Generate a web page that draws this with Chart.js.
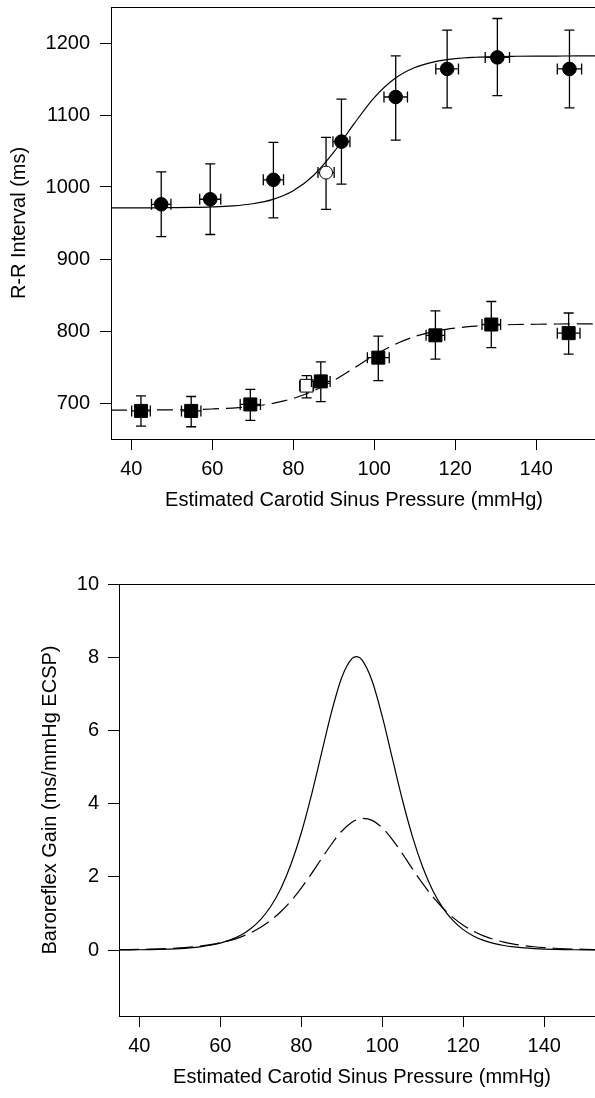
<!DOCTYPE html>
<html>
<head>
<meta charset="utf-8">
<script src="https://cdn.jsdelivr.net/npm/chart.js@4.4.1/dist/chart.umd.min.js"></script>
<style>
  html, body { margin: 0; padding: 0; background: #fff; overflow: hidden; }
  #page { position: absolute; left: 0; top: 0; width: 595px; height: 1098px; overflow: hidden; }
  canvas { position: absolute; left: 0; }
</style>
</head>
<body>
<div id="page">
  <canvas id="rr" width="597" height="512" style="top:0"></canvas>
  <canvas id="gain" width="605" height="529" style="top:560px"></canvas>
</div>
<script>
// top panel: R-R interval vs estimated carotid sinus pressure
const pressureCtl = [47.4, 59.5, 75.1, 91.9, 105.3, 118.0, 130.4, 148.2];
const rrCtl     = [976, 983, 1010, 1063, 1125, 1164, 1180, 1164];
const rrCtlHi   = [1021, 1032, 1062, 1122, 1182, 1218, 1234, 1218];
const rrCtlLo   = [931, 934, 957, 1004, 1065, 1110, 1127, 1110];
const pressureCtlErr = [2.4, 2.6, 2.5, 2.1, 2.9, 2.8, 3.0, 3.0];

const pressureCtlOpen = [88.1];
const rrCtlOpen   = [1020];
const rrCtlOpenHi = [1069];
const rrCtlOpenLo = [969];
const pressureCtlOpenErr = [2.0];

const pressureExp = [42.4, 54.8, 69.4, 86.8, 101.0, 115.1, 128.9, 148.0];
const rrExp     = [689, 689, 698, 730, 763, 794, 809, 797];
const rrExpHi   = [710, 709, 719, 757, 793, 828, 841, 825];
const rrExpLo   = [668, 667, 676, 702, 731, 761, 777, 768];
const pressureExpErr = [2.3, 2.4, 2.5, 2.3, 2.7, 2.3, 2.3, 2.8];

const pressureExpOpen = [83.3];
const rrExpOpen   = [724];
const rrExpOpenHi = [738];
const rrExpOpenLo = [707];
const pressureExpOpenErr = [1.7];

// fitted curves
const curveX = [35, 40, 45, 50, 55, 60, 65, 70, 75, 80, 85, 90, 95, 100, 105, 110, 115, 120, 125, 130, 135, 140, 145, 150, 155];
const fitCtl = [971.0, 971.1, 971.1, 971.3, 971.6, 972.3, 973.7, 976.7, 982.8, 994.7, 1016.0, 1048.3, 1087.7, 1124.1, 1150.3, 1165.9, 1174.2, 1178.3, 1180.2, 1181.2, 1181.6, 1181.8, 1181.9, 1182.0, 1182.0];
const fitExp = [690.1, 690.2, 690.3, 690.5, 690.9, 691.7, 693.0, 695.4, 699.5, 706.3, 716.8, 731.2, 748.6, 766.2, 781.2, 792.3, 799.6, 804.0, 806.7, 808.1, 809.0, 809.4, 809.7, 809.8, 809.9];

// bottom panel: baroreflex gain curves
const gainX = [35, 37.5, 40, 42.5, 45, 47.5, 50, 52.5, 55, 57.5, 60, 62.5, 65, 67.5, 70, 72.5, 75, 77.5, 80, 82.5,
               85, 87.5, 90, 92.5, 93.75, 95, 97.5, 100, 102.5, 105, 107.5, 110, 112.5, 115, 117.5, 120, 122.5, 125, 127.5, 130,
               132.5, 135, 137.5, 140, 142.5, 145, 147.5, 150, 152.5, 155];
const gainCtl = [0.004, 0.006, 0.009, 0.014, 0.020, 0.029, 0.042, 0.062, 0.090, 0.132, 0.192, 0.279, 0.405, 0.585, 0.841, 1.199, 1.692, 2.358, 3.199, 4.227,
                 5.375, 6.515, 7.447, 7.962, 8.017, 7.927, 7.352, 6.384, 5.234, 4.093, 3.086, 2.263, 1.623, 1.148, 0.805, 0.559, 0.387, 0.267, 0.183, 0.126,
                 0.087, 0.059, 0.041, 0.028, 0.019, 0.013, 0.009, 0.006, 0.004, 0.003];
const gainExp = [0.010, 0.014, 0.019, 0.025, 0.034, 0.046, 0.061, 0.083, 0.111, 0.149, 0.200, 0.267, 0.356, 0.473, 0.623, 0.815, 1.055, 1.348, 1.693, 2.083,
                 2.496, 2.898, 3.247, 3.493, 3.565, 3.598, 3.543, 3.339, 3.018, 2.627, 2.213, 1.813, 1.453, 1.142, 0.886, 0.679, 0.518, 0.390, 0.293, 0.219,
                 0.164, 0.122, 0.091, 0.068, 0.050, 0.037, 0.028, 0.021, 0.015, 0.011];

const pressureTicks = [40, 60, 80, 100, 120, 140];
const rrTicks = [700, 800, 900, 1000, 1100, 1200];
const gainTicks = [0, 2, 4, 6, 8, 10];

Chart.defaults.font.family = "'Liberation Sans', Arial, sans-serif";
Chart.defaults.font.size = 20;
Chart.defaults.color = '#000';

function pts(xs, ys) {
  return xs.map((x, i) => ({x: x, y: ys[i]}));
}
function errs(dx, hi, lo) {
  return dx.map((d, i) => ({dx: d, hi: hi[i], lo: lo[i]}));
}

const errorBars = {
  id: 'errorBars',
  beforeDatasetDraw(chart, args) {
    const ds = chart.data.datasets[args.index];
    if (!ds.errors) return;
    const xs = chart.scales.x, ys = chart.scales.y;
    const ctx = chart.ctx;
    ctx.save();
    ctx.strokeStyle = '#000';
    ctx.lineWidth = 1.3;
    ds.data.forEach((p, i) => {
      const e = ds.errors[i];
      const px = xs.getPixelForValue(p.x), py = ys.getPixelForValue(p.y);
      const top = ys.getPixelForValue(e.hi), bot = ys.getPixelForValue(e.lo);
      const l = xs.getPixelForValue(p.x - e.dx), r = xs.getPixelForValue(p.x + e.dx);
      ctx.beginPath();
      ctx.moveTo(px, top); ctx.lineTo(px, bot);
      ctx.moveTo(px - 5, top); ctx.lineTo(px + 5, top);
      ctx.moveTo(px - 5, bot); ctx.lineTo(px + 5, bot);
      ctx.moveTo(l, py); ctx.lineTo(r, py);
      ctx.moveTo(l, py - 5.5); ctx.lineTo(l, py + 5.5);
      ctx.moveTo(r, py - 5.5); ctx.lineTo(r, py + 5.5);
      ctx.stroke();
    });
    ctx.restore();
  }
};

// top frame line
const topFrame = {
  id: 'topFrame',
  afterDraw(chart) {
    const a = chart.chartArea, ctx = chart.ctx;
    ctx.save();
    ctx.strokeStyle = '#000';
    ctx.lineWidth = 1;
    ctx.beginPath();
    ctx.moveTo(a.left, Math.round(a.top) + 0.5);
    ctx.lineTo(a.right, Math.round(a.top) + 0.5);
    ctx.stroke();
    ctx.restore();
  }
};

function xAxis() {
  return {
    type: 'linear', min: 35, max: 155,
    afterBuildTicks: s => { s.ticks = pressureTicks.map(v => ({value: v})); },
    afterFit: s => { s.paddingLeft = 0; s.paddingRight = 0; s.height = 73; },
    ticks: { padding: 7, autoSkip: false, maxRotation: 0, callback: v => String(v) },
    grid: { drawOnChartArea: false, tickLength: 11, color: '#000' },
    border: { color: '#000', width: 1 },
    title: { display: true, text: 'Estimated Carotid Sinus Pressure (mmHg)', padding: {top: 7, bottom: 0} }
  };
}

const markerBase = { showLine: false, pointBorderColor: '#000', pointBorderWidth: 1 };
const lineBase = { showLine: true, pointRadius: 0, borderColor: '#000', borderWidth: 1.2, cubicInterpolationMode: 'monotone', order: 3 };

new Chart(document.getElementById('rr'), {
  type: 'scatter',
  data: {
    datasets: [
      Object.assign({ data: pts(pressureCtl, rrCtl), errors: errs(pressureCtlErr, rrCtlHi, rrCtlLo),
        pointStyle: 'circle', pointRadius: 6.8, pointBackgroundColor: '#000', order: 0 }, markerBase),
      Object.assign({ data: pts(pressureExp, rrExp), errors: errs(pressureExpErr, rrExpHi, rrExpLo),
        pointStyle: 'rect', pointRadius: 9.2, pointBackgroundColor: '#000', order: 0 }, markerBase),
      Object.assign({ data: pts(pressureCtlOpen, rrCtlOpen), errors: errs(pressureCtlOpenErr, rrCtlOpenHi, rrCtlOpenLo),
        pointStyle: 'circle', pointRadius: 6.5, pointBackgroundColor: '#fff', order: 1 }, markerBase),
      Object.assign({ data: pts(pressureExpOpen, rrExpOpen), errors: errs(pressureExpOpenErr, rrExpOpenHi, rrExpOpenLo),
        pointStyle: 'rect', pointRadius: 9, pointBackgroundColor: '#fff', order: 1 }, markerBase),
      Object.assign({ data: pts(curveX, fitCtl) }, lineBase),
      Object.assign({ data: pts(curveX, fitExp), borderDash: [16, 7] }, lineBase)
    ]
  },
  options: {
    responsive: false,
    animation: false,
    events: [],
    layout: { autoPadding: false, padding: { top: 7, left: 0, right: 0, bottom: 0 } },
    plugins: { legend: { display: false }, tooltip: { enabled: false } },
    scales: {
      x: xAxis(),
      y: {
        min: 650, max: 1250,
        afterBuildTicks: s => { s.ticks = rrTicks.map(v => ({value: v})); },
        afterFit: s => { s.width = 111; s.paddingTop = 0; s.paddingBottom = 0; },
        ticks: { padding: 10, callback: v => String(v) },
        grid: { drawOnChartArea: false, tickLength: 11, color: '#000' },
        border: { color: '#000', width: 1 },
        title: { display: true, text: 'R-R Interval (ms)', padding: {top: 7, bottom: 0} }
      }
    }
  },
  plugins: [errorBars, topFrame]
});

new Chart(document.getElementById('gain'), {
  type: 'scatter',
  data: {
    datasets: [
      Object.assign({ data: pts(gainX, gainCtl) }, lineBase),
      Object.assign({ data: pts(gainX, gainExp), borderDash: [20, 7] }, lineBase)
    ]
  },
  options: {
    responsive: false,
    animation: false,
    events: [],
    layout: { autoPadding: false, padding: { top: 24, left: 0, right: 0, bottom: 0 } },
    plugins: { legend: { display: false }, tooltip: { enabled: false } },
    scales: {
      x: xAxis(),
      y: {
        min: -1.8, max: 10,
        afterBuildTicks: s => { s.ticks = gainTicks.map(v => ({value: v})); },
        afterFit: s => { s.width = 119; s.paddingTop = 0; s.paddingBottom = 0; },
        ticks: { padding: 9, callback: v => String(v) },
        grid: { drawOnChartArea: false, tickLength: 11, color: '#000' },
        border: { color: '#000', width: 1 },
        title: { display: true, text: 'Baroreflex Gain (ms/mmHg ECSP)', padding: {top: 38, bottom: 0} }
      }
    }
  },
  plugins: [topFrame]
});
</script>
</body>
</html>
